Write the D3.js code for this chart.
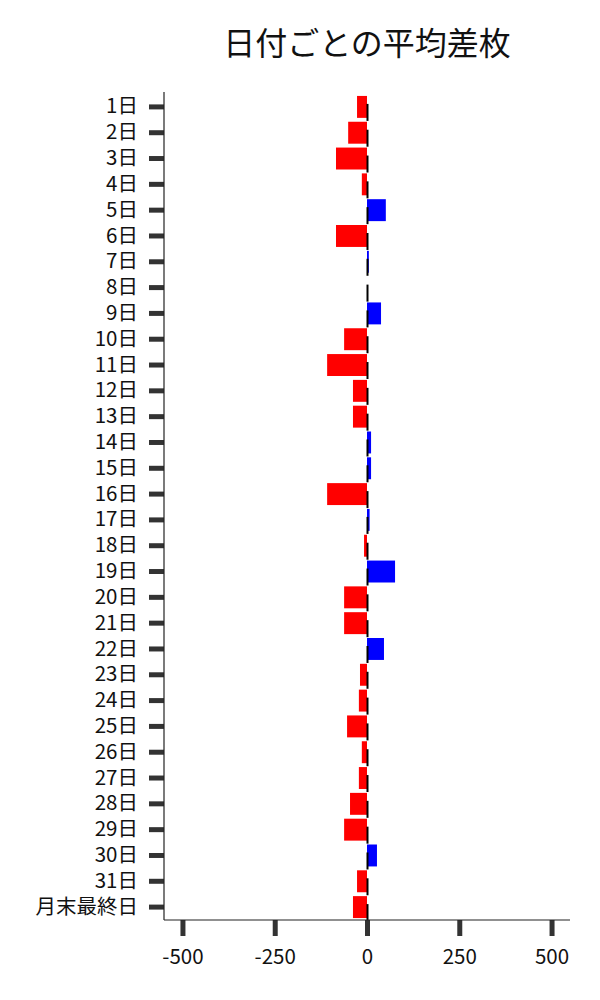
<!DOCTYPE html>
<html>
<head>
<meta charset="utf-8">
<script src="https://cdn.jsdelivr.net/npm/d3@7"></script>
<style>
  body { margin: 0; background: #fff; }
  text { font-family: "Noto Sans CJK JP", "Noto Sans", sans-serif; }
</style>
</head>
<body>
<div id="theGraph"></div>
<script>
const days = ["1日","2日","3日","4日","5日","6日","7日","8日","9日","10日","11日","12日","13日","14日","15日","16日",
    "17日","18日","19日","20日","21日","22日","23日","24日","25日","26日","27日","28日","29日","30日","31日","月末最終日"];
const avgDiff = [-27, -51, -84, -14, 51, -84, 5, 0, 38, -62, -108, -38, -38, 11, 11, -108,
    7, -8, 76, -62, -62, 46, -19, -22, -54, -14, -22, -46, -62, 27, -27, -38];
const xTicks = [-500, -250, 0, 250, 500];
const title = "日付ごとの平均差枚";

const width = 600, height = 1000,
    margin = {left: 164, top: 94, right: 30, bottom: 80},
    contentRight = 570,
    contentBottom = 920;

const data = days.map((d, i) => ({day: d, value: avgDiff[i]}));

const svg = d3.select("#theGraph").append("svg").attr("width", width).attr("height", height);

const xScale = d3.scaleLinear().domain([-550, 550]).range([margin.left, contentRight]);
const yScale = d3.scaleBand().domain(days).range([margin.top, contentBottom]).paddingInner(0.15).paddingOuter(0.075);

//bars
svg.append("g").selectAll("rect").data(data).enter().append("rect")
    .attr("x", d => xScale(Math.min(0, d.value)))
    .attr("y", d => yScale(d.day))
    .attr("width", d => Math.abs(xScale(d.value) - xScale(0)))
    .attr("height", yScale.bandwidth())
    .attr("fill", d => d.value < 0 ? "#ff0000" : "#0000ff");

//small black marks at zero
svg.append("g").selectAll("line").data(data).enter().append("line")
    .attr("x1", xScale(0) + 0.5).attr("x2", xScale(0) + 0.5)
    .attr("y1", d => yScale(d.day) + yScale.bandwidth() / 2 - 3)
    .attr("y2", d => yScale(d.day) + yScale.bandwidth() / 2 + 14)
    .attr("stroke", "#000").attr("stroke-width", 2);

//y axis
const yAxis = svg.append("g").attr("transform", `translate(${margin.left},0)`)
    .call(d3.axisLeft(yScale).tickSize(15).tickPadding(11));
yAxis.select(".domain").remove();
yAxis.selectAll(".tick line").attr("stroke", "#333").attr("stroke-width", 5);
yAxis.selectAll(".tick text").attr("font-size", 20.5).attr("fill", "#111");

//x axis
const xAxis = svg.append("g").attr("transform", `translate(0,${contentBottom})`)
    .call(d3.axisBottom(xScale).tickValues(xTicks).tickFormat(d => String(d)).tickSize(16).tickPadding(13));
xAxis.select(".domain").remove();
xAxis.selectAll(".tick line").attr("stroke", "#333").attr("stroke-width", 5);
xAxis.selectAll(".tick text").attr("font-size", 20.5).attr("fill", "#111");

//spines
svg.append("line").attr("x1", margin.left).attr("x2", margin.left).attr("y1", 92).attr("y2", contentBottom)
    .attr("stroke", "#222").attr("stroke-width", 1.2);
svg.append("line").attr("x1", margin.left).attr("x2", contentRight).attr("y1", contentBottom).attr("y2", contentBottom)
    .attr("stroke", "#222").attr("stroke-width", 1.2);

//title
svg.append("text").attr("x", (margin.left + contentRight) / 2).attr("y", 55)
    .attr("text-anchor", "middle").attr("font-size", 32).attr("fill", "#111").text(title);
</script>
</body>
</html>
